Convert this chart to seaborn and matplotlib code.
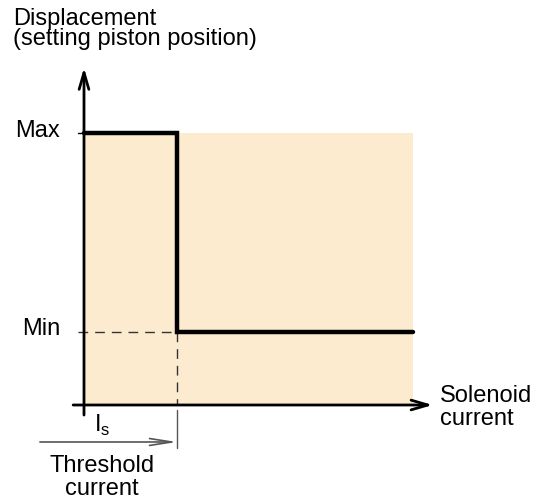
import matplotlib
matplotlib.use("Agg")
import matplotlib.pyplot as plt
import pandas as pd
import seaborn as sns

sns.set_style("white")
plt.rcParams['font.family'] = ['Liberation Sans', 'DejaVu Sans']
plt.rcParams['text.color'] = 'black'
plt.rcParams['mathtext.fontset'] = 'custom'
plt.rcParams['mathtext.rm'] = 'Liberation Sans'

# values (current in arbitrary units 0..10, displacement normalised 0..1)
current = [0, 2.83, 2.83, 10]
displacement = [1.0, 1.0, 0.27, 0.27]
threshold = 2.83
d_max, d_min = 1.0, 0.27
x_end = 10

df = pd.DataFrame({'current': current, 'displacement': displacement})

fig = plt.figure(figsize=(5.4, 5.03), dpi=100)
ax = fig.add_axes([84 / 540, 98 / 503, 329 / 540, 272 / 503])
ax.set_xlim(0, x_end)
ax.set_ylim(0, 1)
ax.axis('off')

# shaded operating area
ax.fill_between([0, x_end], 0, 1.005, color='#fdebd0', lw=0, zorder=0)

# characteristic
sns.lineplot(data=df, x='current', y='displacement', sort=False, estimator=None,
             color='black', lw=3.2, ax=ax, zorder=5)
ax.lines[-1].set_solid_joinstyle('miter')
ax.lines[-1].set_clip_on(False)

# axes arrows
arr = dict(arrowstyle='->,head_length=1.2,head_width=0.35', color='black', lw=2, shrinkA=0, shrinkB=0)
ax.annotate('', xy=(0, 1.24), xytext=(0, -0.037), arrowprops=arr, annotation_clip=False)
ax.annotate('', xy=(10.6, 0), xytext=(-0.33, 0), arrowprops=arr, annotation_clip=False)

# ticks and guides
ax.plot([-0.18, 0], [d_max, d_max], color='black', lw=1, clip_on=False)
ax.plot([-0.18, threshold], [d_min, d_min], color='#333333', lw=1, ls=(0, (7, 5)), clip_on=False)
ax.plot([threshold, threshold], [d_min, 0], color='#333333', lw=1, ls=(0, (7, 5)), clip_on=False)
ax.plot([threshold, threshold], [-0.018, -0.158], color='#555555', lw=1, clip_on=False)
ax.annotate('', xy=(threshold, -0.136), xytext=(-1.34, -0.136),
            arrowprops=dict(arrowstyle='->,head_length=1.6,head_width=0.25', color='#555555', lw=1.2,
                            shrinkA=0, shrinkB=0), annotation_clip=False)

fs = 17
ax.text(-2.16, 1.397, 'Displacement', fontsize=fs, ha='left', va='baseline')
ax.text(-2.16, 1.324, '(setting piston position)', fontsize=fs, ha='left', va='baseline')
ax.text(-0.73, 0.985, 'Max', fontsize=fs, ha='right', va='baseline')
ax.text(-0.73, 0.257, 'Min', fontsize=fs, ha='right', va='baseline')
ax.text(0.3, -0.099, r'I$_{\mathrm{s}}$', fontsize=fs, ha='left', va='baseline')
ax.text(0.55, -0.246, 'Threshold', fontsize=fs, ha='center', va='baseline')
ax.text(0.55, -0.33, 'current', fontsize=fs, ha='center', va='baseline')
ax.text(10.82, 0.011, 'Solenoid', fontsize=fs, ha='left', va='baseline')
ax.text(10.82, -0.074, 'current', fontsize=fs, ha='left', va='baseline')

fig.savefig('out.png', dpi=100)
